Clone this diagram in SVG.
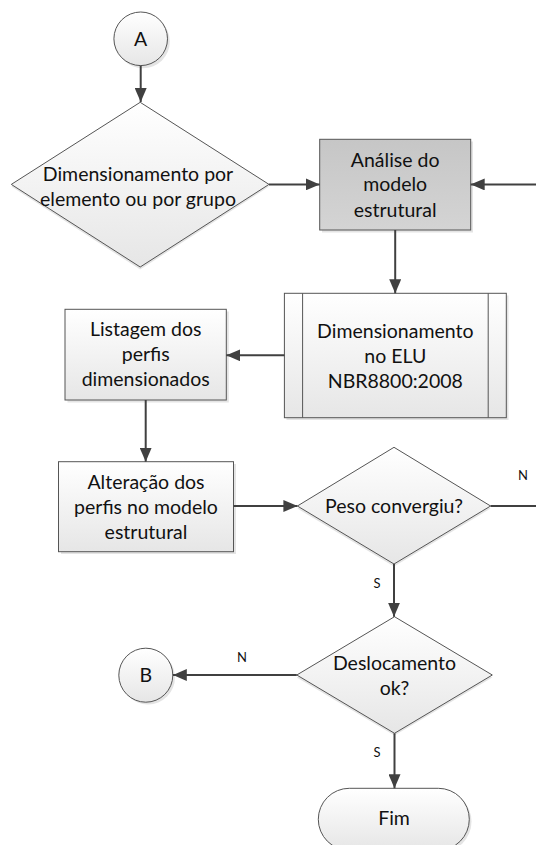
<svg xmlns="http://www.w3.org/2000/svg" width="536" height="845" viewBox="0 0 536 845">
<defs>
<linearGradient id="gLight" x1="0" y1="0" x2="0" y2="1">
<stop offset="0" stop-color="#ffffff"/><stop offset="1" stop-color="#e6e6e6"/>
</linearGradient>
<linearGradient id="gGray" x1="0" y1="0" x2="0" y2="1">
<stop offset="0" stop-color="#c6c6c6"/><stop offset="1" stop-color="#d4d4d4"/>
</linearGradient>
<marker id="ah" viewBox="0 0 14 12" refX="14" refY="6" markerWidth="14" markerHeight="12" markerUnits="userSpaceOnUse" orient="auto">
<path d="M0,0 L14,6 L0,12 Z" fill="#404040"/>
</marker>
</defs>
<style>
.sh{fill:#d9d9d9;stroke:none;opacity:0.7}
.n{fill:url(#gLight);stroke:#555555;stroke-width:1}
.g{fill:url(#gGray);stroke:#555555;stroke-width:1}
.t{font-family:Lato,"Open Sans","Liberation Sans",sans-serif;font-size:19.5px;font-weight:400;fill:#111111;text-anchor:middle}
.s{font-family:Lato,"Liberation Sans",sans-serif;font-size:13px;fill:#111111;text-anchor:middle}
.c{fill:none;stroke:#404040;stroke-width:2}
.a{fill:none;stroke:#404040;stroke-width:2;marker-end:url(#ah)}
</style>
<rect width="536" height="845" fill="#ffffff"/>

<g id="nodeA">
<circle class="sh" cx="143" cy="41.5" r="26.8"/>
<circle class="n" cx="140.7" cy="38.8" r="26.8"/>
<text class="t" x="140.7" y="45.5">A</text>
</g>

<g id="decisaoDimensionamento">
<polygon class="sh" points="11.3,186.5 140.2,104.5 269,186.5 140.2,269.5"/>
<polygon class="n" points="11.3,184.4 140.2,102.3 269,184.4 140.2,267"/>
<text class="t" x="138" y="180.5">Dimensionamento por</text>
<text class="t" x="138" y="205.5">elemento ou por grupo</text>
</g>

<g id="analise">
<rect class="sh" x="322" y="141.5" width="151" height="91"/>
<rect class="g" x="319.7" y="139.3" width="151" height="90.7"/>
<text class="t" x="395.2" y="166.5">Análise do</text>
<text class="t" x="395.2" y="191">modelo</text>
<text class="t" x="395.2" y="216.5">estrutural</text>
</g>

<g id="dimensionamentoELU">
<rect class="sh" x="286.5" y="295.5" width="222" height="124.5"/>
<rect class="n" x="284.4" y="293.3" width="221.9" height="124.4"/>
<line x1="302.6" y1="293.3" x2="302.6" y2="417.7" stroke="#555555" stroke-width="1"/>
<line x1="488.2" y1="293.3" x2="488.2" y2="417.7" stroke="#555555" stroke-width="1"/>
<text class="t" x="395.3" y="337.5">Dimensionamento</text>
<text class="t" x="395.3" y="362.5">no ELU</text>
<text class="t" x="395.3" y="387.5">NBR8800:2008</text>
</g>

<g id="listagem">
<rect class="sh" x="67.5" y="311.5" width="161.3" height="91"/>
<rect class="n" x="65" y="309.3" width="161.3" height="90.7"/>
<text class="t" x="145.7" y="336">Listagem dos</text>
<text class="t" x="145.7" y="361">perfis</text>
<text class="t" x="145.7" y="386">dimensionados</text>
</g>

<g id="alteracao">
<rect class="sh" x="61" y="464" width="175" height="90"/>
<rect class="n" x="58.5" y="461.7" width="175" height="90"/>
<text class="t" x="146" y="488.5">Alteração dos</text>
<text class="t" x="146" y="513.5">perfis no modelo</text>
<text class="t" x="146" y="538.5">estrutural</text>
</g>

<g id="decisaoPeso">
<polygon class="sh" points="297.4,508.5 394,449.5 490.6,508.5 394,566.5"/>
<polygon class="n" points="297.4,506 394,447.3 490.6,506 394,564"/>
<text class="t" x="394" y="512.5">Peso convergiu?</text>
</g>

<g id="decisaoDeslocamento">
<polygon class="sh" points="296.8,677.5 394.5,619 492.3,677.5 394.5,735.5"/>
<polygon class="n" points="296.8,675 394.5,616.7 492.3,675 394.5,733.3"/>
<text class="t" x="394.5" y="669.5">Deslocamento</text>
<text class="t" x="394.5" y="694.5">ok?</text>
</g>

<g id="nodeB">
<circle class="sh" cx="148" cy="677.5" r="27"/>
<circle class="n" cx="145.8" cy="675.2" r="27"/>
<text class="t" x="145.8" y="682">B</text>
</g>

<g id="fim">
<rect class="sh" x="320.5" y="790.5" width="151" height="62" rx="31" ry="31"/>
<rect class="n" x="318.3" y="788.3" width="151" height="62" rx="31" ry="31"/>
<text class="t" x="394" y="825">Fim</text>
</g>

<g id="connectors">
<line class="a" x1="140.7" y1="65.6" x2="140.7" y2="102"/>
<line class="a" x1="269" y1="184.4" x2="319.7" y2="184.4"/>
<line class="a" x1="536" y1="184.4" x2="470.7" y2="184.4"/>
<line class="a" x1="395.2" y1="230" x2="395.2" y2="293.3"/>
<line class="a" x1="284.4" y1="355.3" x2="226.3" y2="355.3"/>
<line class="a" x1="145.7" y1="400" x2="145.7" y2="461.7"/>
<line class="a" x1="233.5" y1="506" x2="297.4" y2="506"/>
<line class="c" x1="490.6" y1="506" x2="536" y2="506"/>
<line class="a" x1="394" y1="564" x2="394" y2="616.7"/>
<line class="a" x1="296.8" y1="675" x2="172.8" y2="675"/>
<line class="a" x1="394.5" y1="733.3" x2="394.5" y2="788.3"/>
<text class="s" x="523" y="480">N</text>
<text class="s" x="377" y="588">S</text>
<text class="s" x="242" y="662">N</text>
<text class="s" x="377" y="757">S</text>
</g>
</svg>
